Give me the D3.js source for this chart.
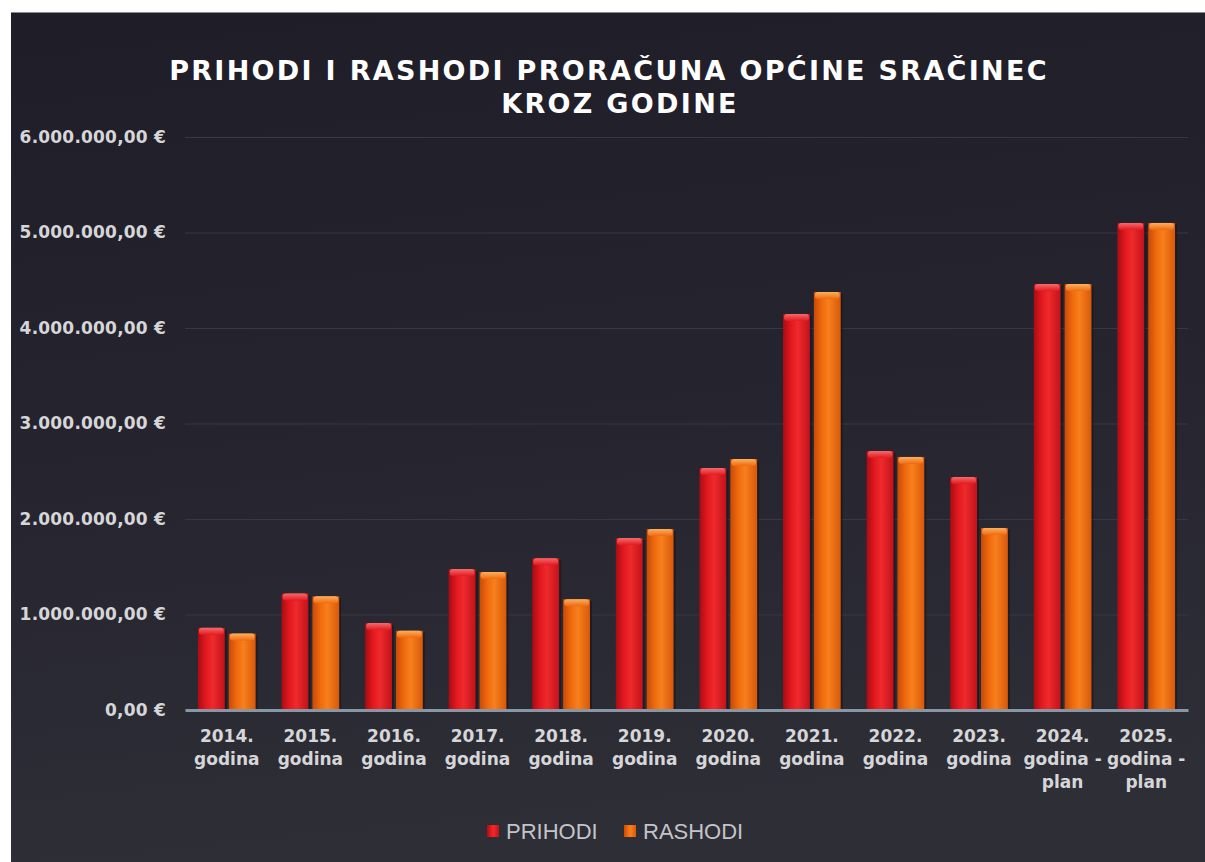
<!DOCTYPE html>
<html>
<head>
<meta charset="utf-8">
<script src="https://cdn.jsdelivr.net/npm/d3@7"></script>
<style>
  html, body { margin: 0; padding: 0; background: #ffffff; }
  svg { display: block; }
</style>
</head>
<body>
<div id="chart"></div>
<script>
"use strict";

// == data ==
var categories = ["2014. godina", "2015. godina", "2016. godina", "2017. godina",
                  "2018. godina", "2019. godina", "2020. godina", "2021. godina",
                  "2022. godina", "2023. godina", "2024. godina - plan", "2025. godina - plan"];
var seriesNames = ["PRIHODI", "RASHODI"];
var prihodi = [860000, 1220000, 910000, 1476000, 1590000, 1800000,
               2534000, 4147000, 2712000, 2440000, 4460000, 5100000];
var rashodi = [800000, 1190000, 830000, 1445000, 1160000, 1895000,
               2628000, 4377000, 2650000, 1906000, 4460000, 5100000];
var yTicks = [0, 1000000, 2000000, 3000000, 4000000, 5000000, 6000000];

var visualize = function() {
  var W = 1205, H = 862;
  var margin = { top: 137, left: 185 },
      width = 1003,
      height = 573;

  var svg = d3.select("#chart").append("svg")
              .attr("width", W)
              .attr("height", H);

  var defs = svg.append("defs");

  // background gradient
  var bg = defs.append("linearGradient").attr("id", "bg")
               .attr("x1", 0).attr("y1", 0).attr("x2", 0.15).attr("y2", 1);
  bg.append("stop").attr("offset", "0%").attr("stop-color", "#1f1d28");
  bg.append("stop").attr("offset", "55%").attr("stop-color", "#26252f");
  bg.append("stop").attr("offset", "100%").attr("stop-color", "#2e2e37");

  // bar body gradients (left-right shading)
  var barColors = {
    PRIHODI: ["#a80c14", "#e3191f", "#ee2a2c", "#c2121a"],
    RASHODI: ["#c94a06", "#f06a0e", "#f7801c", "#d8580a"]
  };
  var capColors = { PRIHODI: "#f46a6a", RASHODI: "#fbb060" };
  seriesNames.forEach(function(s, i) {
    var g = defs.append("linearGradient").attr("id", "bar" + i)
                .attr("x1", 0).attr("y1", 0).attr("x2", 1).attr("y2", 0);
    g.append("stop").attr("offset", "0%").attr("stop-color", barColors[s][0]);
    g.append("stop").attr("offset", "30%").attr("stop-color", barColors[s][1]);
    g.append("stop").attr("offset", "55%").attr("stop-color", barColors[s][2]);
    g.append("stop").attr("offset", "100%").attr("stop-color", barColors[s][3]);
    var c = defs.append("linearGradient").attr("id", "cap" + i)
                .attr("x1", 0).attr("y1", 0).attr("x2", 0).attr("y2", 1);
    c.append("stop").attr("offset", "0%").attr("stop-color", capColors[s]);
    c.append("stop").attr("offset", "100%").attr("stop-color", barColors[s][1]);
  });

  // == dark panel ==
  svg.append("rect")
     .attr("x", 11).attr("y", 12)
     .attr("width", W - 11).attr("height", H - 12)
     .attr("fill", "url(#bg)");
  svg.append("line")
     .attr("x1", 11).attr("x2", W).attr("y1", 12.5).attr("y2", 12.5)
     .attr("stroke", "#8a8a8e").attr("stroke-width", 1);

  // == title ==
  var title = svg.append("text")
     .attr("text-anchor", "middle")
     .attr("font-family", "DejaVu Sans, Verdana, sans-serif")
     .attr("font-weight", "bold")
     .attr("font-size", 27)
     .attr("letter-spacing", "2.3px")
     .attr("fill", "#ffffff");
  title.append("tspan").attr("x", 609).attr("y", 80)
       .text("PRIHODI I RASHODI PRORAČUNA OPĆINE SRAČINEC");
  title.append("tspan").attr("x", 620).attr("y", 113)
       .text("KROZ GODINE");

  var chart = svg.append("g")
     .attr("transform", "translate(" + margin.left + "," + margin.top + ")");

  // == scales ==
  var x0 = d3.scaleBand()
             .domain(categories)
             .range([0, width])
             .paddingInner(0.31)
             .paddingOuter(0.155);
  var x1 = d3.scaleBand()
             .domain(seriesNames)
             .range([0, x0.bandwidth()])
             .paddingInner(0.13);
  var y = d3.scaleLinear()
            .domain([0, 6000000])
            .range([height, 0]);

  var locale = d3.formatLocale({ decimal: ",", thousands: ".", grouping: [3], currency: ["", " €"] });
  var fmt = locale.format("$,.2f");

  // == gridlines ==
  chart.append("g")
     .call(d3.axisLeft(y).tickValues(yTicks).tickSize(-width).tickFormat(""))
     .call(function(g) {
       g.select(".domain").remove();
       g.selectAll("line").attr("stroke", "#383743").attr("stroke-width", 1.2);
     });

  // == y axis labels ==
  chart.append("g")
     .call(d3.axisLeft(y).tickValues(yTicks).tickSize(0).tickPadding(19).tickFormat(fmt))
     .call(function(g) {
       g.select(".domain").remove();
       g.selectAll("text")
        .attr("font-family", "DejaVu Sans, Verdana, sans-serif")
        .attr("font-weight", "bold")
        .attr("font-size", 17)
        .attr("letter-spacing", "0.2px")
        .attr("fill", "#d6d6d8");
     });

  // == bars ==
  var data = categories.map(function(c, i) {
    return { cat: c, values: [
      { key: "PRIHODI", idx: 0, value: prihodi[i] },
      { key: "RASHODI", idx: 1, value: rashodi[i] }
    ] };
  });

  var groups = chart.selectAll(".grp")
     .data(data)
     .enter().append("g")
     .attr("class", "grp")
     .attr("transform", function(d) { return "translate(" + x0(d.cat) + ",0)"; });

  var bars = groups.selectAll(".bar")
     .data(function(d) { return d.values; })
     .enter().append("g")
     .attr("class", "bar");

  // soft shadow to the right
  bars.append("rect")
     .attr("x", function(d) { return x1(d.key) + 2; })
     .attr("y", function(d) { return y(d.value) + 2; })
     .attr("width", x1.bandwidth())
     .attr("height", function(d) { return height - y(d.value) - 2; })
     .attr("fill", "#141219")
     .attr("opacity", 0.55);

  bars.append("rect")
     .attr("x", function(d) { return x1(d.key); })
     .attr("y", function(d) { return y(d.value); })
     .attr("width", x1.bandwidth())
     .attr("height", function(d) { return height - y(d.value); })
     .attr("fill", function(d) { return "url(#bar" + d.idx + ")"; });

  bars.append("rect")
     .attr("x", function(d) { return x1(d.key) + 1; })
     .attr("y", function(d) { return y(d.value); })
     .attr("width", x1.bandwidth() - 2)
     .attr("height", 7)
     .attr("rx", 3)
     .attr("fill", function(d) { return "url(#cap" + d.idx + ")"; });

  // == x axis ==
  var xAxis = chart.append("g")
     .attr("transform", "translate(0," + height + ")")
     .call(d3.axisBottom(x0).tickSize(0).tickFormat(""));
  xAxis.select(".domain")
     .attr("stroke", "#8797a6")
     .attr("stroke-width", 3);

  var ticks = xAxis.selectAll(".tick");
  ticks.append("text")
     .attr("text-anchor", "middle")
     .attr("font-family", "DejaVu Sans, Verdana, sans-serif")
     .attr("font-weight", "bold")
     .attr("font-size", 17)
     .attr("fill", "#d6d6d8")
     .each(function(d) {
       var parts = d.split(" ");
       var lines = [parts[0], parts.slice(1, 3).join(" "), parts.slice(3).join(" ")]
                   .filter(function(s) { return s.length; });
       var t = d3.select(this);
       lines.forEach(function(l, i) {
         t.append("tspan").attr("x", 0).attr("y", 32 + i * 23).text(l);
       });
     });

  // == legend ==
  var legend = svg.append("g").attr("transform", "translate(0,831)");
  var legendX = [487, 624];
  seriesNames.forEach(function(s, i) {
    legend.append("rect")
       .attr("x", legendX[i]).attr("y", -6)
       .attr("width", 12).attr("height", 12)
       .attr("fill", "url(#bar" + i + ")");
    legend.append("text")
       .attr("x", legendX[i] + 19).attr("y", 8)
       .attr("font-family", "Liberation Sans, Arial, sans-serif")
       .attr("font-size", 22)
       .attr("fill", "#c4c4c8")
       .text(s);
  });
};

visualize();
</script>
</body>
</html>
